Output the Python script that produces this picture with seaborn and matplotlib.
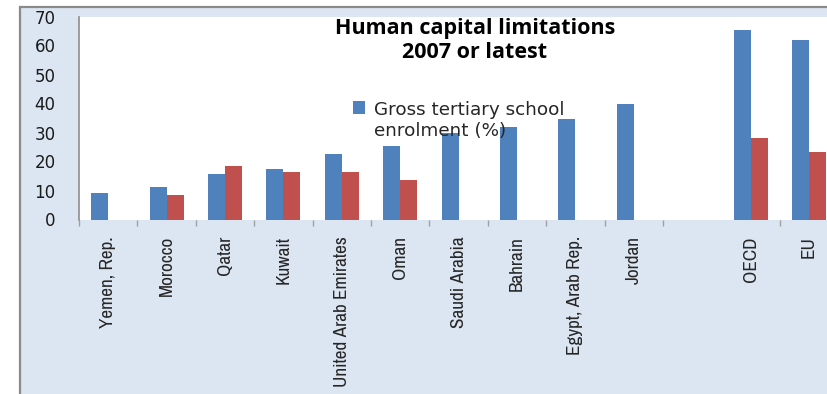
import numpy as np
import pandas as pd
import matplotlib
matplotlib.use("Agg")
import matplotlib.pyplot as plt
import seaborn as sns
from matplotlib.patches import Rectangle, Patch
from matplotlib.legend_handler import HandlerPatch

nan = np.nan

# Countries / groups along the x axis (a blank slot separates the regional aggregates)
countries = ["Yemen, Rep.", "Morocco", "Qatar", "Kuwait", "United Arab Emirates", "Oman",
             "Saudi Arabia", "Bahrain", "Egypt, Arab Rep.", "Jordan", " ", "OECD", "EU"]

# Gross tertiary school enrolment (%)
tertiary_enrolment = [9.1, 11.1, 15.6, 17.3, 22.5, 25.3, 30.0, 31.8, 34.6, 39.7, nan, 65.3, 62.0]
# Companion indicator shown in red
second_indicator = [nan, 8.4, 18.4, 16.3, 16.3, 13.6, nan, nan, nan, nan, nan, 28.1, 23.2]

series_names = ["Gross tertiary school enrolment (%)", "Second indicator"]
y_ticks = [0, 10, 20, 30, 40, 50, 60, 70]

BLUE = "#4f81bd"
RED = "#c0504d"
PANEL = "#dce6f2"

df = pd.DataFrame({
    "country": countries * 2,
    "series": [series_names[0]] * len(countries) + [series_names[1]] * len(countries),
    "value": tertiary_enrolment + second_indicator,
}).dropna()

sns.set_theme(style="white")
plt.rcParams["font.family"] = ["DejaVu Sans"]

W, H = 828, 394
fig = plt.figure(figsize=(W / 100, H / 100), dpi=100)
fig.patch.set_facecolor("white")

# Light-blue chart area with grey frame on the left and top (runs off the right/bottom edges)
fig.patches.append(Rectangle((20.5 / W, -0.2), 1, 1.2 - 6.5 / H, transform=fig.transFigure,
                             facecolor=PANEL, edgecolor="#8a8a8a", linewidth=1.6, zorder=-5))

ax = fig.add_axes([79 / W, 1 - 219.5 / H, 759.2 / W, 203 / H])
ax.set_zorder(1)
ax.set_facecolor("white")

sns.barplot(data=df, x="country", y="value", hue="series", order=countries,
            hue_order=series_names, palette=[BLUE, RED], saturation=1,
            width=0.58, gap=0, errorbar=None, legend=False, ax=ax, linewidth=0)

ax.set_xlim(-0.5, len(countries) - 0.5)
ax.set_ylim(0, 70)
ax.set_xlabel("")
ax.set_ylabel("")

for s in ["top", "right", "bottom"]:
    ax.spines[s].set_visible(False)
ax.spines["left"].set_color("#8c8c8c")
ax.spines["left"].set_linewidth(1.2)

# y axis
ax.set_yticks(y_ticks)
ax.set_yticklabels([str(v) for v in y_ticks], fontsize=12, color="#1a1a1a")
ax.tick_params(axis="y", which="major", length=0, pad=17)
ax.set_yticks([10, 50], minor=True)
ax.tick_params(axis="y", which="minor", length=5.5, width=1, color="#8c8c8c", left=True)

# x axis: labels at category centres, tick marks at category boundaries
ax.set_xticks(range(len(countries)))
ax.set_xticklabels(countries, rotation=90, fontsize=13.8, color="#262626",
                   family=["Archivo Narrow", "DejaVu Sans"])
ax.tick_params(axis="x", which="major", length=0, pad=12)
boundaries = [b - 0.5 for b in range(len(countries) + 1) if b != 11]
ax.set_xticks(boundaries, minor=True)
ax.tick_params(axis="x", which="minor", length=4.5, width=1, color="#a0a0a0", bottom=True)

# Title
fig.text(475 / W, 1 - 40.5 / H, "Human capital limitations\n2007 or latest", ha="center",
         va="center", fontsize=15.5, fontweight="bold", color="black", linespacing=1.2,
         family="Open Sans")


# Legend for the enrolment series, with the swatch beside the first text line
def top_swatch(legend, orig_handle, xdescent, ydescent, width, height, fontsize):
    return Rectangle((-xdescent, -ydescent + 0.62 * fontsize * 1.2), width, height)


fig.legend(handles=[Patch(facecolor=BLUE, edgecolor="none")],
           labels=["Gross tertiary school\nenrolment (%)"],
           handler_map={Patch: HandlerPatch(patch_func=top_swatch)},
           loc="upper left", bbox_to_anchor=(353 / W, 1 - 101 / H), frameon=False,
           prop={"family": "DejaVu Sans", "size": 13.2}, handlelength=0.66, handleheight=0.66,
           handletextpad=0.48, borderpad=0, borderaxespad=0, labelspacing=0)

fig.savefig("out.png", dpi=100, facecolor=fig.get_facecolor())
